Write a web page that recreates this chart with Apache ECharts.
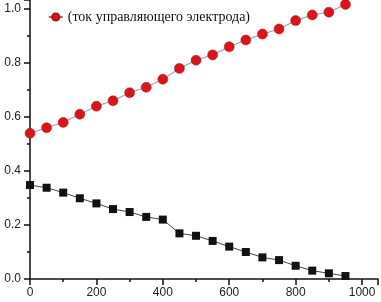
<!DOCTYPE html>
<html><head><meta charset="utf-8">
<script src="https://cdn.jsdelivr.net/npm/echarts@6/dist/echarts.min.js"></script>
<style>html,body{margin:0;padding:0;background:#fff}#c{width:381px;height:302px}</style>
</head><body><div id="c"></div>
<script>
const xValues = [0,50,100,150,200,250,300,350,400,450,500,550,600,650,700,750,800,850,900,950];
const redValues = [0.54,0.56,0.58,0.61,0.64,0.66,0.69,0.71,0.74,0.78,0.81,0.83,0.86,0.885,0.907,0.926,0.957,0.978,0.988,1.017];
const blackValues = [0.348,0.338,0.32,0.299,0.28,0.259,0.248,0.23,0.22,0.169,0.16,0.141,0.12,0.10,0.08,0.07,0.049,0.031,0.021,0.011];
const xTickStep = 200;
const yTickStep = 0.2;
const redName = '(ток управляющего электрода)';
const blackName = 'series2';

const chart = echarts.init(document.getElementById('c'));
const axisColor = '#111';
const XMAX = 1048, YMAX = 1.0333;
const isMult = (v, s) => Math.abs(v/s - Math.round(v/s)) < 1e-6;
chart.setOption({
  animation:false,
  grid:{left:30,right:0,top:0,bottom:23},
  legend:{
    left:43, top:5, itemWidth:14, itemHeight:9, itemGap:5,
    data:[{name:redName, itemStyle:{color:'#d9141c'}, lineStyle:{color:'#d9141c', width:1.5}}],
    textStyle:{fontFamily:'Liberation Serif', fontSize:14, color:'#111'}
  },
  xAxis:{
    type:'value', min:0, max:XMAX, interval:xTickStep,
    axisLine:{show:true, lineStyle:{color:axisColor, width:1.5}},
    axisTick:{show:true, length:6, lineStyle:{color:axisColor, width:1.5}},
    minorTick:{show:true, splitNumber:2, length:3, lineStyle:{color:axisColor, width:1.5}},
    axisLabel:{margin:8, fontFamily:'Liberation Sans', fontSize:12, color:'#222',
      formatter:v=>isMult(v,xTickStep)?String(Math.round(v)):''},
    splitLine:{show:false}
  },
  yAxis:{
    type:'value', min:0, max:YMAX, interval:yTickStep,
    axisLine:{show:true, lineStyle:{color:axisColor, width:1.5}},
    axisTick:{show:true, length:6, lineStyle:{color:axisColor, width:1.5}},
    minorTick:{show:true, splitNumber:2, length:3, lineStyle:{color:axisColor, width:1.5}},
    axisLabel:{margin:9, fontFamily:'Liberation Sans', fontSize:12, color:'#222',
      formatter:v=>isMult(v,yTickStep)?v.toFixed(1):''},
    splitLine:{show:false}
  },
  series:[{
    name:redName, type:'line',
    data:xValues.map((x,i)=>[x,redValues[i]]),
    symbol:'circle', symbolSize:10,
    itemStyle:{color:'#d9141c', borderColor:'#b01018', borderWidth:0.5},
    lineStyle:{color:'#a8a4b4', width:1.2},
    z:3
  },{
    name:blackName, type:'line',
    data:xValues.map((x,i)=>[x,blackValues[i]]),
    symbol:'rect', symbolSize:8,
    itemStyle:{color:'#111'},
    lineStyle:{color:'#444', width:1}
  }]
});
</script></body></html>
